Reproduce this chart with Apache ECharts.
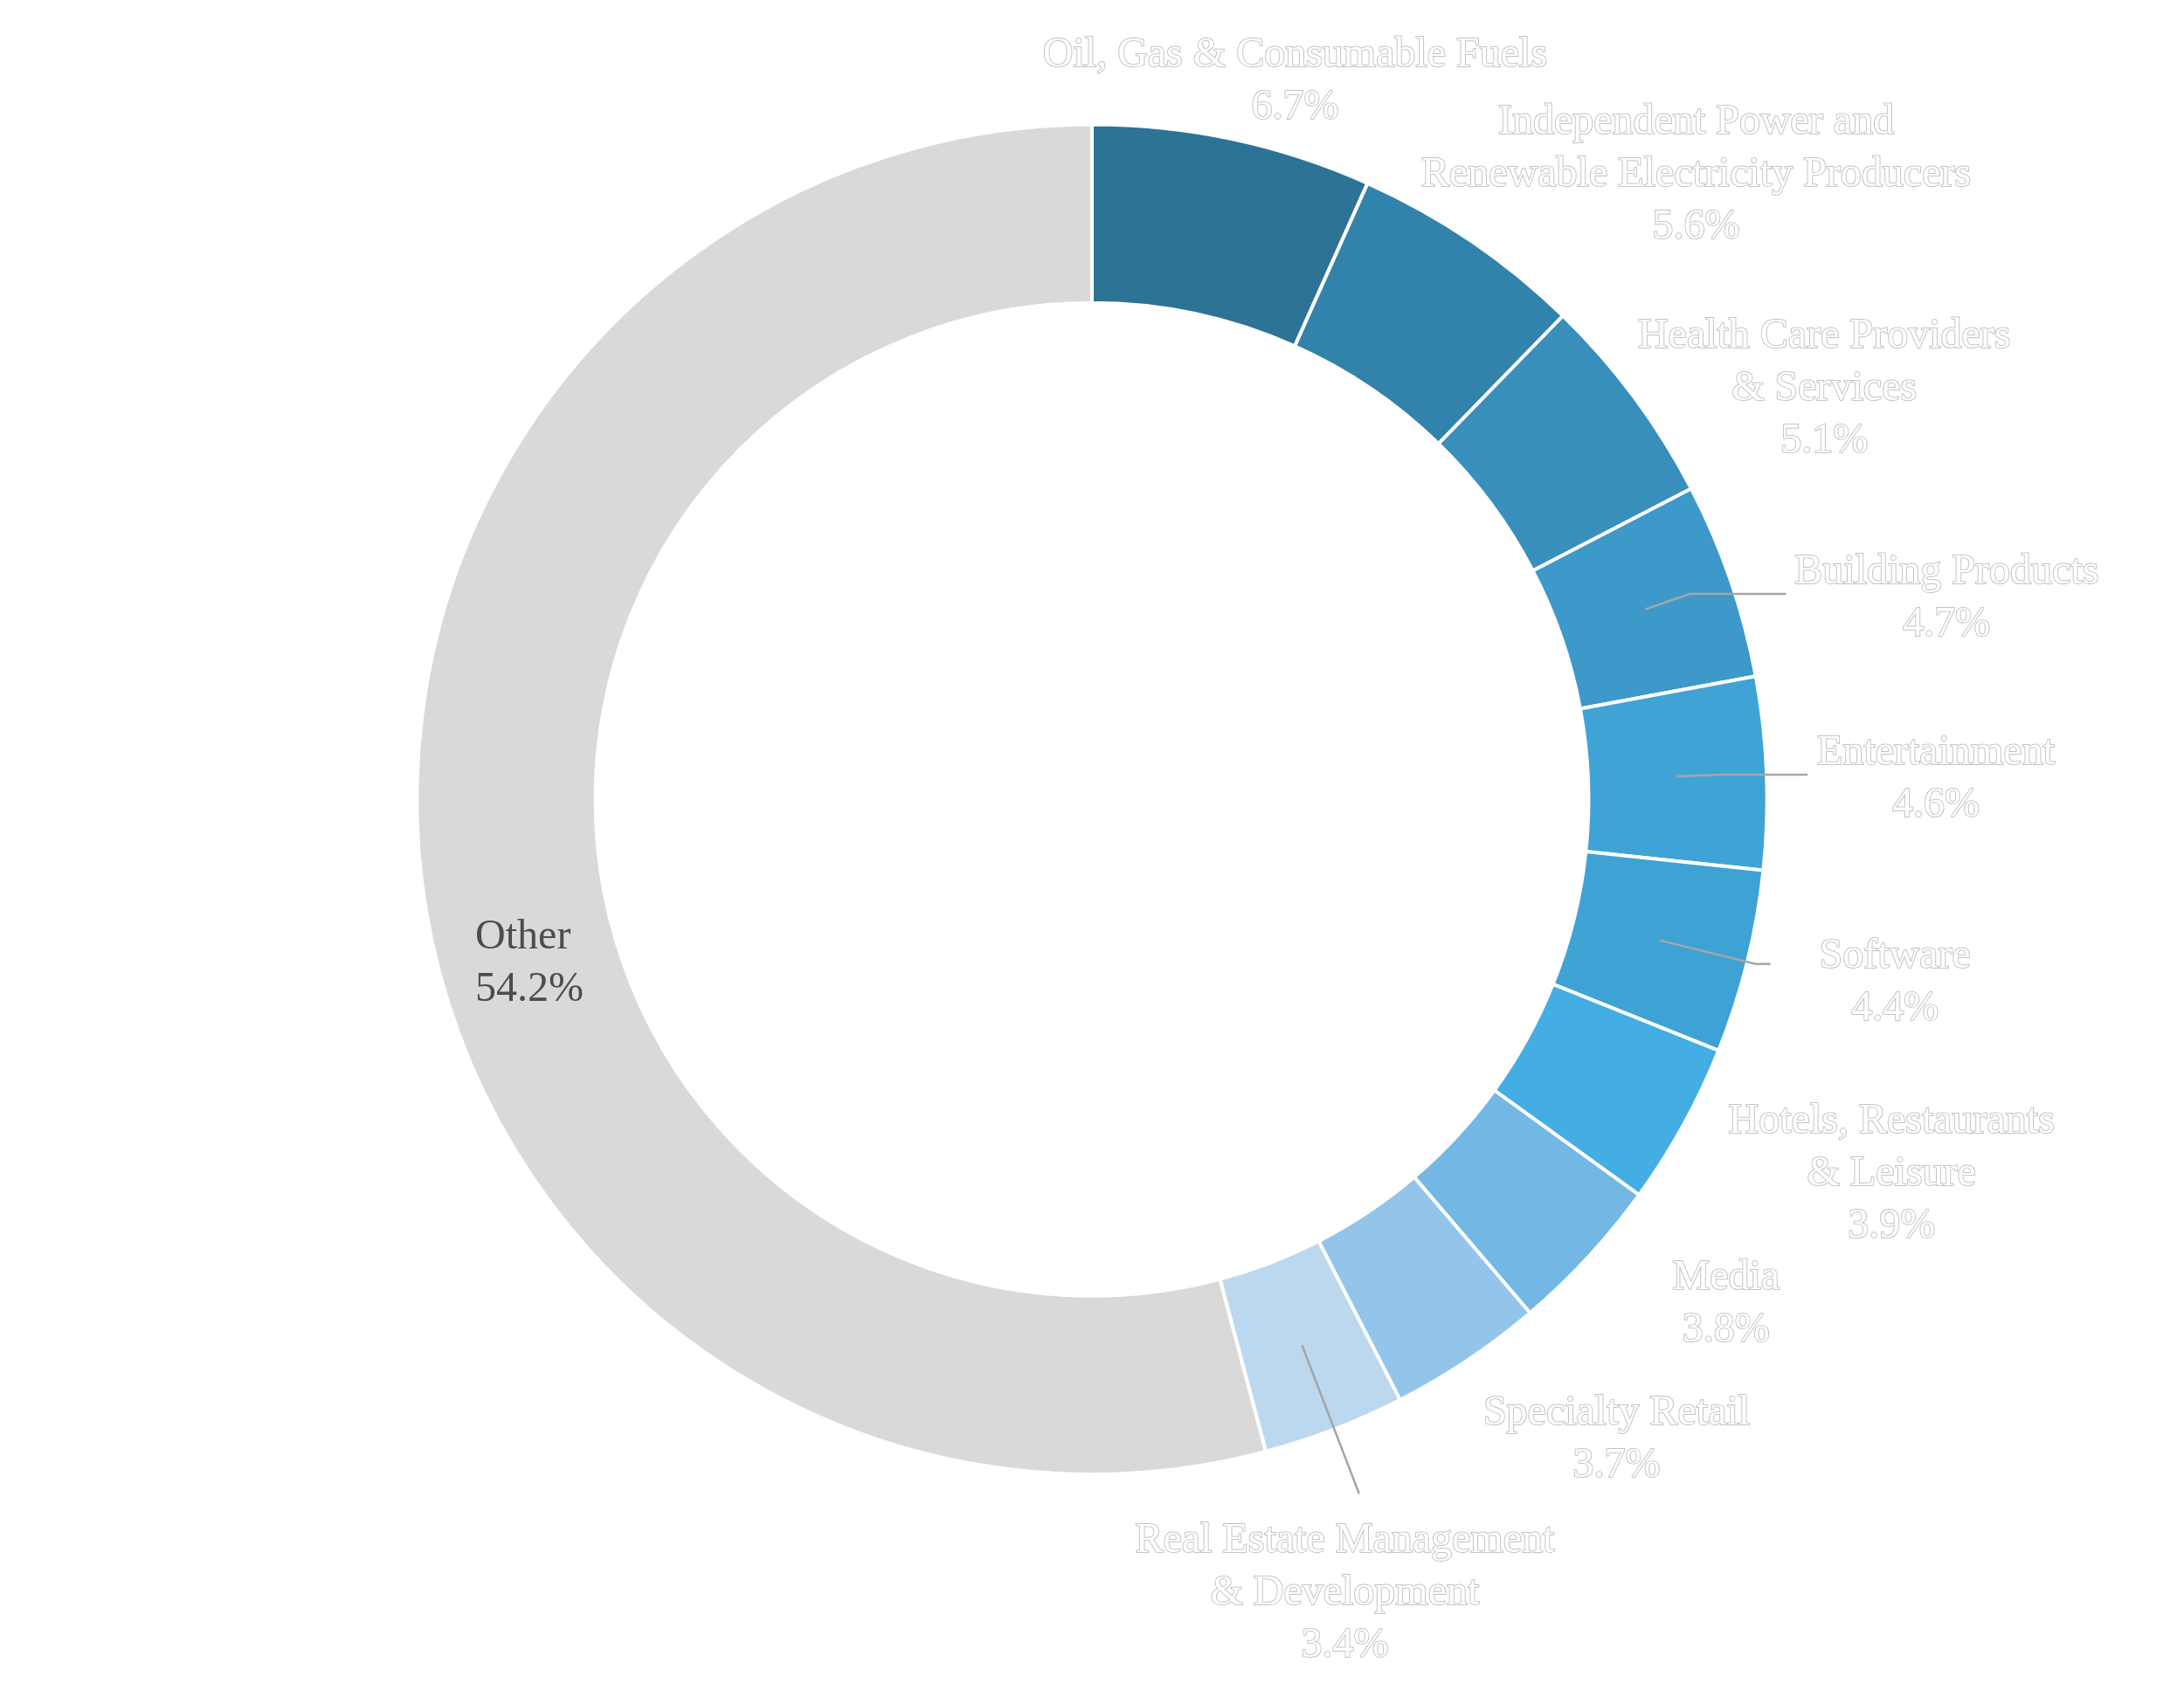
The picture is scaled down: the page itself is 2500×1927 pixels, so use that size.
<!DOCTYPE html>
<html>
<head>
<meta charset="utf-8">
<script src="https://cdn.jsdelivr.net/npm/echarts@6/dist/echarts.min.js"></script>
<style>
  html, body { margin: 0; padding: 0; background: #fff; }
  #chart { width: 2500px; height: 1927px; }
</style>
</head>
<body>
<div id="chart"></div>
<script>
// sectors (label text, \n = line break) and weights in %
var sectors = [
    'Oil, Gas & Consumable Fuels',
    'Independent Power and\nRenewable Electricity Producers',
    'Health Care Providers\n& Services',
    'Building Products',
    'Entertainment',
    'Software',
    'Hotels, Restaurants\n& Leisure',
    'Media',
    'Specialty Retail',
    'Real Estate Management\n& Development',
    'Other'
];
var weights = [6.7, 5.6, 5.1, 4.7, 4.6, 4.4, 3.9, 3.8, 3.7, 3.4, 54.2];
var sliceColors = ['#2d7396', '#3283ac', '#398fbc', '#3c99ca', '#3fa3d5', '#3fa2d5',
                   '#44ade3', '#73b8e4', '#93c5ea', '#bbd8ef', '#d9d9d9'];

// label placement: [line visible, length, length2, distance, padding, centred]
var place = [
    [false, 171, 52, 5, 0, true],
    [false, 195, 201, 5, 0, true],
    [false, 119, 200, 5, 0, true],
    [true, 54, 110, 10, [10, 0, 0, 0], false],
    [true, 50, 100, 11, [10, 0, 0, 0], false],
    [true, 113, 17, 56, [44, 0, 0, 0], false],
    [false, 219, 132, 5, 0, true],
    [false, 182, 95, 5, 0, true],
    [false, 212, 105, 5, 0, true],
    [true, 181, 1, 5, [230, 44, 0, 0], true]
];

var FONT = 'Liberation Serif';

function richLines(text, style) {
    return text.split('\n').map(function(s) { return '{' + style + '|' + s + '}'; }).join('\n');
}

var ringData = [];
var labelData = [];
for (var i = 0; i < sectors.length; i++) {
    var isOther = i === sectors.length - 1;
    ringData.push({
        name: sectors[i],
        value: weights[i],
        itemStyle: { color: sliceColors[i] },
        label: isOther ? { show: true, padding: [202, 0, 0, 48] } : { show: false }
    });
    var p = place[i];
    labelData.push({
        name: sectors[i],
        value: weights[i],
        label: p ? { show: true, distanceToLabelLine: p[3], padding: p[4] } : { show: false },
        labelLine: p ? { show: p[0], length: p[1], length2: p[2] } : { show: false }
    });
}

var chart = echarts.init(document.getElementById('chart'));
chart.setOption({
    animation: false,
    backgroundColor: '#ffffff',
    series: [
        {
            type: 'pie',
            z: 2,
            center: ['50%', '47.5%'],
            radius: ['59%', '80.2%'],
            startAngle: 90,
            silent: true,
            itemStyle: { borderColor: '#ffffff', borderWidth: 4 },
            label: {
                position: 'inside',
                formatter: function(d) { return richLines(d.name + '\n' + d.value.toFixed(1) + '%', 'o'); },
                rich: {
                    o: { fontFamily: FONT, fontSize: 48, lineHeight: 60, color: '#4d4d4d', align: 'left' }
                }
            },
            labelLine: { show: false },
            data: ringData
        },
        {
            // transparent pie at mid-ring radius: carries the outside labels and leader lines
            type: 'pie',
            z: 5,
            center: ['50%', '47.5%'],
            radius: [0, '69.5%'],
            startAngle: 90,
            silent: true,
            avoidLabelOverlap: false,
            itemStyle: { color: 'rgba(0,0,0,0)' },
            label: {
                position: 'outside',
                formatter: function(d) { return richLines(d.name + '\n' + d.value.toFixed(1) + '%', 'w'); },
                rich: {
                    w: {
                        fontFamily: FONT, fontSize: 48, lineHeight: 60, align: 'center',
                        color: '#ffffff', textBorderColor: '#c4c4c4', textBorderWidth: 2
                    }
                }
            },
            labelLine: { smooth: false, lineStyle: { color: '#a6a6a6', width: 2.5 } },
            labelLayout: function(params) {
                var p = place[params.dataIndex];
                return p && p[5] ? { align: 'center' } : {};
            },
            data: labelData
        }
    ]
});
</script>
</body>
</html>
